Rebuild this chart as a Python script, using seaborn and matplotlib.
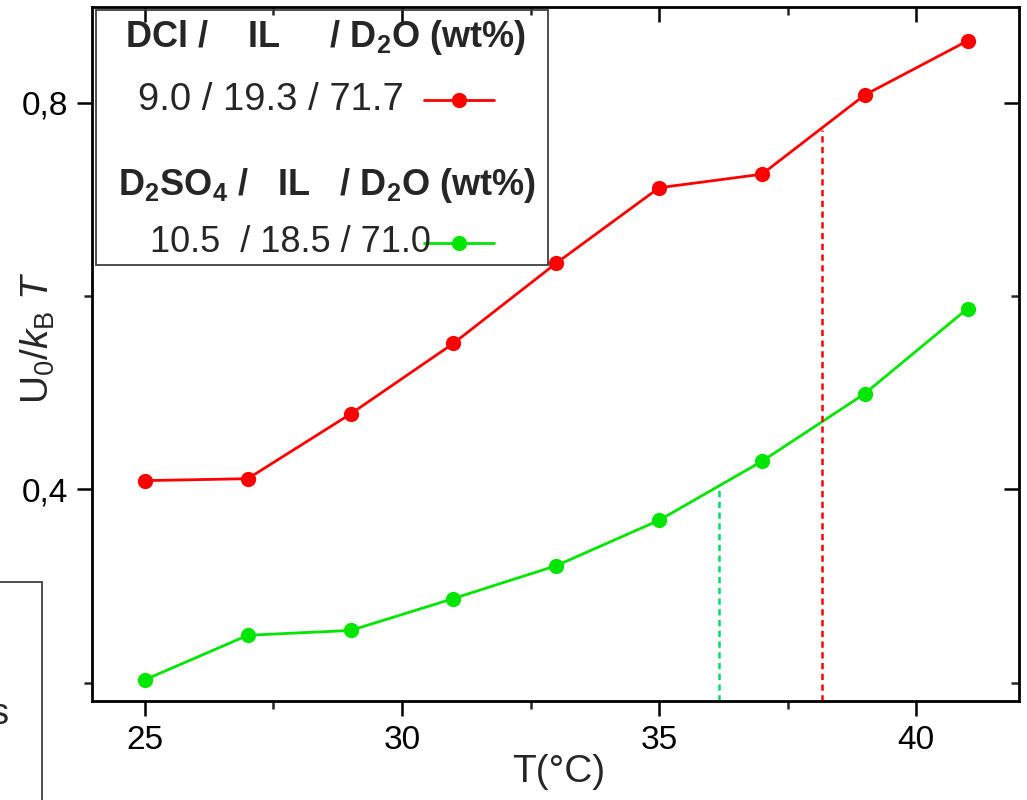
import numpy as np
import pandas as pd
import matplotlib
matplotlib.use("Agg")
import matplotlib.pyplot as plt
import seaborn as sns
from matplotlib.patches import Rectangle
from matplotlib.lines import Line2D
from matplotlib.ticker import MultipleLocator, FuncFormatter

# ---------------- data ----------------
temperature = [25, 27, 29, 31, 33, 35, 37, 39, 41]
u0_dcl = [0.409, 0.411, 0.478, 0.551, 0.634, 0.712, 0.726, 0.808, 0.864]
u0_d2so4 = [0.203, 0.249, 0.254, 0.287, 0.321, 0.368, 0.429, 0.499, 0.587]
transition_T = [36.17, 38.17]          # green, red
transition_U = [0.400, 0.772]
header_dcl = r"DCl /    IL     / D$_\mathbf{2}$O (wt%)"
label_dcl = "9.0 / 19.3 / 71.7"
header_d2so4 = r"D$_\mathbf{2}$SO$_\mathbf{4}$ /   IL   / D$_\mathbf{2}$O (wt%)"
label_d2so4 = "10.5  / 18.5 / 71.0"

RED = "#FF0000"
GREEN = "#00E600"
GREEN_DASH = "#00DD66"

sns.set_theme(style="ticks")
plt.rcParams["font.family"] = ["Liberation Sans", "DejaVu Sans"]
plt.rcParams["mathtext.fontset"] = "custom"
plt.rcParams["mathtext.rm"] = "Liberation Sans"
plt.rcParams["mathtext.it"] = "Liberation Sans:italic"
plt.rcParams["mathtext.bf"] = "Liberation Sans:bold"

fig = plt.figure(figsize=(10.27, 8.0), dpi=100)
ax = fig.add_axes([92 / 1027, 1 - 701 / 800, 927 / 1027, 694 / 800])

df1 = pd.DataFrame({"T": temperature, "U": u0_dcl})
df2 = pd.DataFrame({"T": temperature, "U": u0_d2so4})
sns.lineplot(data=df1, x="T", y="U", ax=ax, color=RED, marker="o",
             markersize=11, markeredgewidth=0, linewidth=2.0)
sns.lineplot(data=df2, x="T", y="U", ax=ax, color=GREEN, marker="o",
             markersize=11, markeredgewidth=0, linewidth=2.0)

ax.set_xlim(23.97, 42.0)
ax.set_ylim(0.181, 0.899)

ax.vlines(transition_T[0], 0.181, transition_U[0], colors=GREEN_DASH,
          linestyles=(0, (2.5, 1.8)), linewidth=1.8)
ax.vlines(transition_T[1], 0.181, transition_U[1], colors=RED,
          linestyles=(0, (2.5, 1.8)), linewidth=1.8)

# ticks
ax.xaxis.set_major_locator(MultipleLocator(5))
ax.xaxis.set_minor_locator(MultipleLocator(2.5))
ax.yaxis.set_major_locator(MultipleLocator(0.4))
ax.yaxis.set_minor_locator(MultipleLocator(0.2))
ax.yaxis.set_major_formatter(FuncFormatter(lambda v, p: f"{v:.1f}".replace(".", ",")))
ax.tick_params(axis="both", which="major", length=11, width=1.8,
               labelsize=24, colors="black", pad=6)
ax.tick_params(axis="both", which="minor", length=6, width=1.8)
ax.tick_params(which="both", top=True, right=True, direction="out")
for t in ax.xaxis.get_major_ticks() + ax.xaxis.get_minor_ticks():
    t.tick2line.set_marker(3)   # inward on top
for t in ax.yaxis.get_major_ticks() + ax.yaxis.get_minor_ticks():
    t.tick2line.set_marker(0)   # inward on right

for s in ax.spines.values():
    s.set_linewidth(2.0)
    s.set_color("black")

ax.set_xlabel("T(°C)", fontsize=28)
ax.xaxis.label.set_va("center")
ax.xaxis.set_label_coords(0.5 + (558 - 555) / 927, -(772 - 701) / 694)
ax.set_ylabel(r"U$_0$/$k_\mathrm{B}$ $T$", fontsize=28)
ax.yaxis.label.set_va("center")
ax.yaxis.set_label_coords(-(92 - 38) / 927, 1 - (338 - 7) / 694)

# legend box (decoration)
ax.add_patch(Rectangle((0.0043, 0.628), 0.488, 0.368, transform=ax.transAxes,
                       fill=False, edgecolor="#404040", linewidth=1.3, zorder=5))
ax.text(0.0356, 0.942, header_dcl, transform=ax.transAxes, fontsize=26,
        fontweight="bold", va="baseline", ha="left")
ax.text(0.0496, 0.8516, label_dcl, transform=ax.transAxes, fontsize=27.5,
        va="baseline", ha="left")
ax.text(0.028, 0.729, header_d2so4, transform=ax.transAxes, fontsize=26,
        fontweight="bold", va="baseline", ha="left")
ax.text(0.0626, 0.647, label_d2so4, transform=ax.transAxes, fontsize=26,
        va="baseline", ha="left")
ax.add_line(Line2D([0.358, 0.434], [0.866, 0.866], transform=ax.transAxes,
                   color=RED, linewidth=2.0))
ax.add_line(Line2D([0.396], [0.866], transform=ax.transAxes, color=RED,
                   marker="o", markersize=11, markeredgewidth=0))
ax.add_line(Line2D([0.358, 0.434], [0.66, 0.66], transform=ax.transAxes,
                   color=GREEN, linewidth=2.0))
ax.add_line(Line2D([0.396], [0.66], transform=ax.transAxes, color=GREEN,
                   marker="o", markersize=11, markeredgewidth=0))

# cropped neighbouring panel at the left edge
fig.patches.append(Rectangle((-0.05, -0.05), 0.05 + 42 / 1027, 0.05 + 1 - 582 / 800,
                             transform=fig.transFigure, fill=False,
                             edgecolor="#404040", linewidth=1.3))
fig.text(0.0, 1 - 715 / 800, "s", fontsize=26, ha="center", va="center")

fig.savefig("out.png", dpi=100)
